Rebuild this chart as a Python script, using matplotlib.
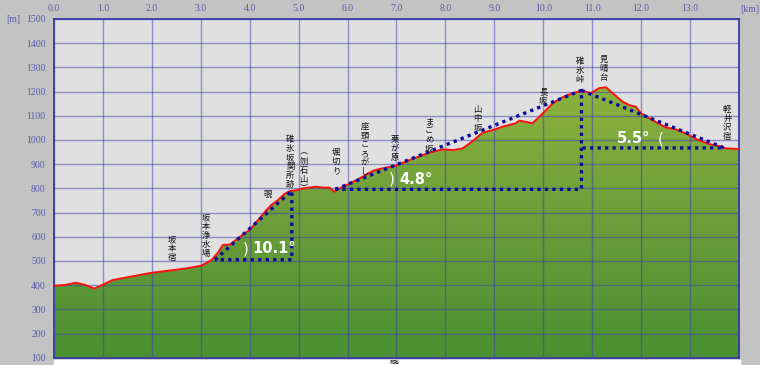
import numpy as np
import matplotlib
matplotlib.use("Agg")
import matplotlib.pyplot as plt
from matplotlib.colors import LinearSegmentedColormap

# elevation profile (km, m)
dist_km = [0.0, 0.2, 0.45, 0.65, 0.82, 1.0, 1.2, 1.62, 2.0, 2.43, 2.7, 3.0, 3.1,
           3.22, 3.35, 3.45, 3.6, 3.8, 4.0, 4.2, 4.34, 4.44, 4.58, 4.71, 4.82,
           4.95, 5.09, 5.36, 5.49, 5.63, 5.73, 5.84, 6.11, 6.31, 6.52, 6.72,
           6.99, 7.27, 7.54, 7.74, 7.94, 8.15, 8.35, 8.56, 8.76, 8.97, 9.17,
           9.44, 9.51, 9.78, 9.99, 10.19, 10.39, 10.6, 10.79, 10.97, 11.14,
           11.28, 11.42, 11.62, 11.76, 11.89, 12.0, 12.23, 12.5, 12.71, 12.91,
           13.12, 13.39, 13.59, 13.73, 14.0]
elev_m = [398, 400, 410, 400, 386, 402, 421, 437, 451, 462, 469, 480, 490,
          504, 534, 566, 568, 600, 628, 676, 710, 731, 752, 777, 789,
          792, 800, 807, 803, 803, 786, 800, 827, 848, 873, 883,
          894, 917, 938, 951, 961, 958, 965, 996, 1030, 1041, 1055,
          1069, 1080, 1069, 1110, 1151, 1176, 1193, 1204, 1193, 1214,
          1218, 1193, 1158, 1144, 1137, 1110, 1082, 1052, 1044, 1027,
          1004, 983, 975, 965, 963]

# slope triangles
tri1_x = [3.29, 4.86, 4.86, 3.29]
tri1_y = [505, 790, 505, 505]
tri2_x = [5.75, 10.78, 10.78, 5.75]
tri2_y = [796, 1205, 796, 796]
tri3_x = [10.78, 13.7, 10.78]
tri3_y = [1205, 967, 967]

angle_text = ["10.1°", "4.8°", "5.5°"]
angle_x = [4.05, 7.05, 11.5]
angle_y = [550, 837, 1004]
arc_text = [")", ")", "("]
arc_x = [3.91, 6.91, 12.4]

# place names
place_names = ["坂本宿", "坂本浄水場", "覗", "碓氷坂関所跡", "︵刎石山︶", "堀切り",
               "座頭ころがし", "栗が原", "まごめ坂", "山中坂", "長坂", "碓氷峠",
               "見晴台", "軽井沢宿"]
place_x = [2.42, 3.11, 4.37, 4.83, 5.1, 5.77, 6.35, 6.96, 7.67, 8.66, 10.0,
           10.75, 11.23, 13.76]
place_top = [607, 698, 793, 1020, 967, 967, 1074, 1020, 1095, 1144, 1219,
             1343, 1351, 1144]

x_ticks = np.arange(0, 14, 1.0)
y_ticks = np.arange(100, 1600, 100)

tick_col = "#5a5ab0"
fig = plt.figure(figsize=(7.6, 3.65), dpi=100, facecolor="#c3c3c3")
ax = fig.add_axes([54 / 760, 1 - 357.7 / 365, 685 / 760, (357.7 - 19) / 365])
ax.set_facecolor("#e0e0e0")
ax.set_xlim(0, 14)
ax.set_ylim(100, 1500)

# green gradient fill under the profile
poly = ax.fill_between(dist_km, elev_m, 100, color="#6a9c3a", lw=0, zorder=1)
cmap = LinearSegmentedColormap.from_list("g", ["#4a9132", "#6b9d3a", "#8cb33e"])
grad = np.linspace(0, 1, 256).reshape(-1, 1)
im = ax.imshow(grad, extent=[0, 14, 100, 1230], origin="lower", cmap=cmap,
               aspect="auto", zorder=1.5)
path = poly.get_paths()[0]
im.set_clip_path(path, transform=ax.transData)

ax.set_xticks(x_ticks)
ax.set_yticks(y_ticks)
ax.grid(True, color="#3c3cb0", alpha=0.5, lw=1.0, zorder=2)
ax.set_axisbelow(False)
ax.xaxis.tick_top()
ax.tick_params(axis="both", length=0, colors=tick_col, labelsize=7)
ax.tick_params(axis="x", pad=4)
ax.tick_params(axis="y", pad=6)
ax.set_xticklabels([f"{v:.1f}" for v in x_ticks], family="Liberation Serif")
ax.set_yticklabels([str(v) for v in y_ticks], family="Liberation Serif")
for s in ax.spines.values():
    s.set_color("#3838a8")
    s.set_linewidth(1.3)

ax.plot(dist_km, elev_m, color="#ff1010", lw=1.4, zorder=4)

dot = dict(color="#0c0c98", lw=2.4, dashes=(1, 1.25), zorder=5,
           solid_capstyle="butt", dash_capstyle="butt")
ax.plot(tri1_x, tri1_y, **dot)
ax.plot(tri2_x, tri2_y, **dot)
ax.plot(tri3_x, tri3_y, **dot)

for t, x, y in zip(angle_text, angle_x, angle_y):
    ax.text(x, y, t, color="white", fontsize=10.5, fontweight="bold",
            family="DejaVu Sans", va="center", ha="left", zorder=6)
for a, x, y in zip(arc_text, arc_x, angle_y):
    ax.text(x, y, a, color="white", fontsize=11, va="center", ha="center",
            family="DejaVu Sans", zorder=6)

for name, x, top in zip(place_names, place_x, place_top):
    ax.text(x, top, "\n".join(name), fontsize=6.0, linespacing=1.0,
            family=["Noto Sans CJK JP", "DejaVu Sans"], ha="center", va="top",
            color="#111111", zorder=6)

fig.text(6 / 760, 1 - 19 / 365, "[m]", color=tick_col, fontsize=7,
         family="Liberation Serif", va="center", ha="left")
fig.text(740 / 760, 1 - 10 / 365, "[km]", color=tick_col, fontsize=7,
         family="Liberation Serif", va="center", ha="left")

# white strip with the axis title at the bottom
fig.patches.append(plt.Rectangle((54 / 760, 0), 686 / 760, 1 - 360 / 365,
                                 transform=fig.transFigure, color="white",
                                 zorder=0))
fig.text(395 / 760, 0.5 / 365, "距離", fontsize=3.5, va="bottom", ha="center",
         family=["Noto Sans CJK JP", "DejaVu Sans"], color="#333333")

fig.savefig("out.png", dpi=100, facecolor=fig.get_facecolor())
